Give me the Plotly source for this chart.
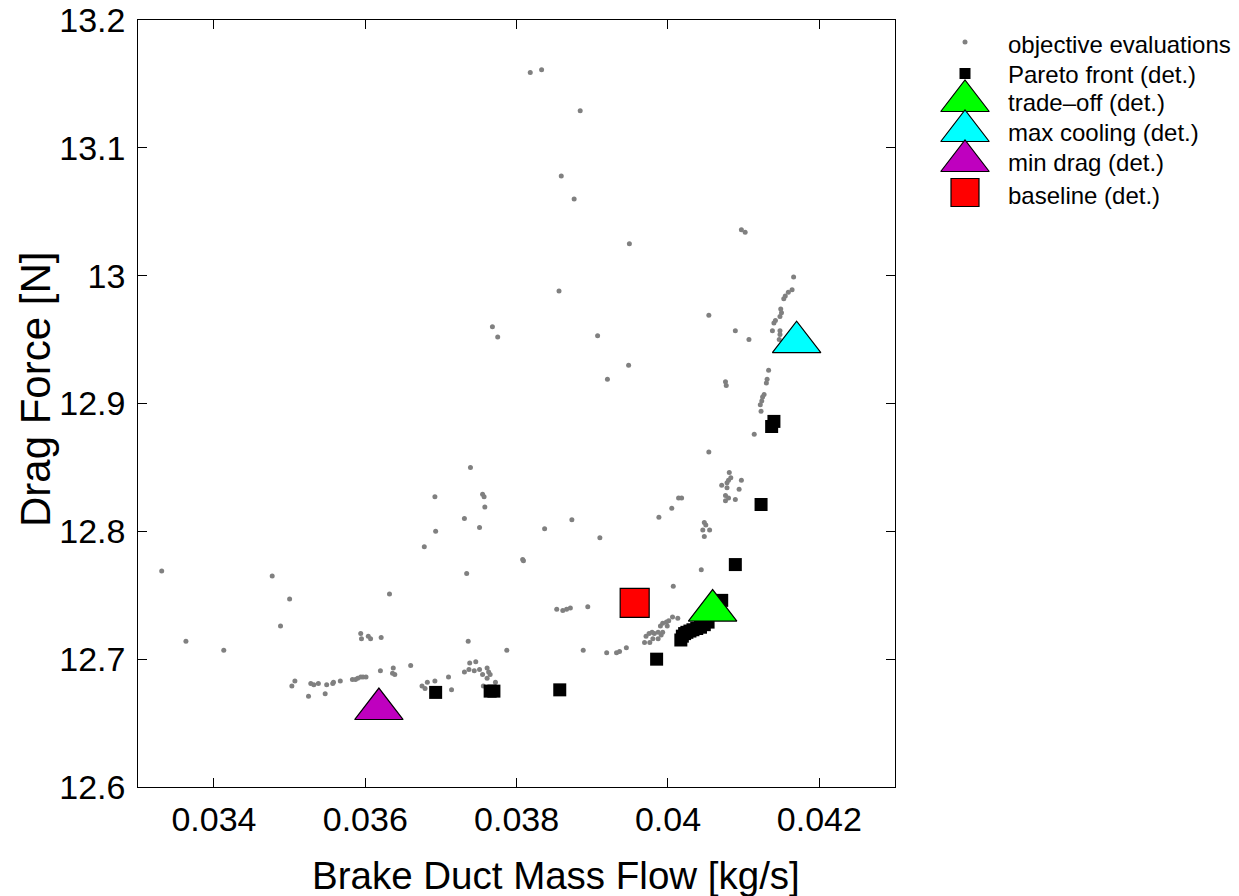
import plotly.graph_objects as go

# ---------------- data ----------------
eval_x = [0.03818, 0.03833, 0.03884, 0.03859, 0.03876, 0.03949, 0.03856, 0.03768, 0.03775, 0.03907, 0.03948, 0.03920,
          0.04097, 0.04102, 0.04054, 0.04089, 0.04107,
          0.04166, 0.04164, 0.04159, 0.04155, 0.04153, 0.04149, 0.04150, 0.04148, 0.04142, 0.04140, 0.04138, 0.04148,
          0.04148, 0.04147, 0.04133, 0.04131, 0.04130, 0.04127, 0.04125, 0.04124, 0.04122, 0.04123, 0.04114,
          0.04076, 0.04077, 0.04054,
          0.04081, 0.04083, 0.04080, 0.04078, 0.04097, 0.04071, 0.04078, 0.04094, 0.04076, 0.04080, 0.04089, 0.04076,
          0.04048, 0.04050, 0.04046, 0.04055, 0.04048,
          0.03739, 0.03692, 0.03755, 0.03757, 0.03758, 0.03731, 0.03751, 0.03693, 0.03678, 0.03734, 0.03632, 0.03808,
          0.03809, 0.03837, 0.03873, 0.03910, 0.03988, 0.04005, 0.04014, 0.04018, 0.04044, 0.04007, 0.03853, 0.03861,
          0.03866, 0.03871, 0.03894,
          0.03331, 0.03363, 0.03413, 0.03477, 0.03500, 0.03488,
          0.03594, 0.03595, 0.03604, 0.03607, 0.03621, 0.03620, 0.03637, 0.03639, 0.03636, 0.03660,
          0.03503, 0.03507, 0.03525, 0.03528, 0.03532, 0.03538, 0.03547, 0.03549, 0.03557, 0.03558, 0.03567, 0.03583,
          0.03587, 0.03590, 0.03594, 0.03597, 0.03601,
          0.03736, 0.03738, 0.03731, 0.03737, 0.03710, 0.03714, 0.03692, 0.03682, 0.03675, 0.03679,
          0.03746, 0.03744, 0.03751, 0.03755, 0.03761, 0.03763, 0.03765, 0.03761, 0.03756, 0.03772, 0.03787,
          0.03888, 0.03919, 0.03932, 0.03936, 0.03945,
          0.04006, 0.04013, 0.04001, 0.03998, 0.03993, 0.03990, 0.03999, 0.03987, 0.03979, 0.03975, 0.03982, 0.03993,
          0.03991, 0.03971, 0.03980, 0.03987, 0.03976, 0.03969]
eval_y = [13.159, 13.161, 13.129, 13.078, 13.060, 13.025, 12.988, 12.960, 12.952, 12.953, 12.930, 12.919,
          13.036, 13.034, 12.969, 12.957, 12.950,
          12.999, 12.989, 12.987, 12.984, 12.982, 12.974, 12.971, 12.968, 12.965, 12.963, 12.957, 12.957,
          12.954, 12.950, 12.926, 12.919, 12.916, 12.907, 12.905, 12.902, 12.899, 12.894, 12.876,
          12.917, 12.914, 12.862,
          12.846, 12.842, 12.840, 12.838, 12.840, 12.836, 12.834, 12.833, 12.828, 12.826, 12.825, 12.824,
          12.807, 12.805, 12.801, 12.801, 12.796,
          12.850, 12.827, 12.829, 12.827, 12.819, 12.810, 12.803, 12.800, 12.788, 12.767, 12.751, 12.778,
          12.777, 12.802, 12.809, 12.795, 12.811, 12.818, 12.826, 12.826, 12.770, 12.757, 12.739, 12.738,
          12.739, 12.740, 12.741,
          12.769, 12.714, 12.707, 12.765, 12.747, 12.726,
          12.720, 12.716, 12.718, 12.716, 12.717, 12.691, 12.693, 12.688, 12.689, 12.695,
          12.679, 12.683, 12.671, 12.681, 12.680, 12.681, 12.673, 12.680, 12.681, 12.682, 12.683, 12.684,
          12.684, 12.685, 12.686, 12.686, 12.686,
          12.714, 12.697, 12.690, 12.692, 12.686, 12.676, 12.683, 12.682, 12.679, 12.677,
          12.698, 12.691, 12.692, 12.688, 12.693, 12.690, 12.688, 12.685, 12.679, 12.682, 12.707,
          12.707, 12.705, 12.705, 12.706, 12.709,
          12.733, 12.732, 12.730, 12.729, 12.728, 12.726, 12.726, 12.721, 12.721, 12.720, 12.720, 12.721,
          12.719, 12.718, 12.716, 12.716, 12.713, 12.713]

pareto_x = [0.03693, 0.03765, 0.03770, 0.03857, 0.03985, 0.04017, 0.04019, 0.04022, 0.04025, 0.04029, 0.04033,
            0.04038, 0.04043, 0.04048, 0.04053, 0.04071, 0.04089, 0.04123, 0.04137, 0.04140]
pareto_y = [12.674, 12.675, 12.675, 12.676, 12.700, 12.715, 12.718, 12.720, 12.721, 12.722, 12.723,
            12.724, 12.725, 12.727, 12.729, 12.746, 12.774, 12.821, 12.882, 12.886]

tradeoff_x, tradeoff_y = [0.04059], [12.738]
maxcool_x, maxcool_y = [0.04170], [12.948]
mindrag_x, mindrag_y = [0.03618], [12.661]
baseline_x, baseline_y = [0.03956], [12.744]

x_ticks = [0.034, 0.036, 0.038, 0.040, 0.042]
x_tick_labels = ["0.034", "0.036", "0.038", "0.04", "0.042"]
y_ticks = [12.6, 12.7, 12.8, 12.9, 13.0, 13.1, 13.2]
y_tick_labels = ["12.6", "12.7", "12.8", "12.9", "13", "13.1", "13.2"]

legend_names = ["objective evaluations", "Pareto front (det.)", "trade\u2013off (det.)",
                "max cooling (det.)", "min drag (det.)", "baseline (det.)"]
x_title = "Brake Duct Mass Flow [kg/s]"
y_title = "Drag Force [N]"

# ---------------- layout helpers ----------------
FONT = "Liberation Sans, Arial, Helvetica, sans-serif"
OFF = 8                      # page body margin in the browser
W, H = 1239 - OFF, 896 - OFF  # figure size


def fx(px):
    """screen pixel x -> paper fraction"""
    return (px - OFF) / W


def fy(py):
    """screen pixel y -> paper fraction"""
    return 1 - (py - OFF) / H


L, R, T, B = 138.25, 895, 20, 787   # plot area in screen pixels

styles = [
    dict(symbol="circle", size=5, color="#808080", line=dict(width=0)),
    dict(symbol="square", size=13, color="black", line=dict(width=0)),
    dict(symbol="triangle-up", size=42, color="#00ff00", line=dict(width=1.2, color="black")),
    dict(symbol="triangle-up", size=42, color="#00ffff", line=dict(width=1.2, color="black")),
    dict(symbol="triangle-up", size=42, color="#bf00bf", line=dict(width=1.2, color="black")),
    dict(symbol="square", size=29, color="#ff0000", line=dict(width=1.2, color="black")),
]
legend_sizes = [5, 11, 42, 42, 42, 28]
series = [(eval_x, eval_y), (pareto_x, pareto_y), (tradeoff_x, tradeoff_y),
          (maxcool_x, maxcool_y), (mindrag_x, mindrag_y), (baseline_x, baseline_y)]

fig = go.Figure()
for (sx, sy), st, name in zip(series, styles, legend_names):
    fig.add_trace(go.Scatter(x=sx, y=sy, mode="markers", name=name, marker=st,
                             showlegend=False, xaxis="x", yaxis="y", cliponaxis=False))

# custom legend (symbols on a pixel-space overlay axis, text as annotations)
leg_text_y = [45, 74, 103, 133, 162, 195]
leg_sym_y = [42, 73.5, 101, 131, 161, 192.5]
leg_sym_x = 965
for i, (st, name) in enumerate(zip(styles, legend_names)):
    mk = dict(st)
    mk["size"] = legend_sizes[i]
    fig.add_trace(go.Scatter(x=[leg_sym_x - OFF], y=[leg_sym_y[i] - OFF], mode="markers",
                             marker=mk, showlegend=False, hoverinfo="skip",
                             xaxis="x2", yaxis="y2", cliponaxis=False))
    fig.add_annotation(text=name, x=fx(1006), y=fy(leg_text_y[i]), xref="paper", yref="paper",
                       xanchor="left", yanchor="middle", showarrow=False,
                       font=dict(family=FONT, size=24, color="black"))

# axis titles as annotations (positioned like the reference)
fig.add_annotation(text=x_title, x=fx(556), y=fy(875), xref="paper", yref="paper",
                   xanchor="center", yanchor="middle", showarrow=False,
                   font=dict(family=FONT, size=38.5, color="black"))
fig.add_annotation(text=y_title, x=fx(36), y=fy(390), xref="paper", yref="paper", textangle=-90,
                   xanchor="center", yanchor="middle", showarrow=False,
                   font=dict(family=FONT, size=42, color="black"))

axis_common = dict(showgrid=False, zeroline=False, showline=True, linecolor="black", linewidth=1,
                   mirror="allticks", ticks="inside", ticklen=9, tickwidth=1, tickcolor="black",
                   ticklabeloverflow="allow",
                   tickfont=dict(family=FONT, size=34, color="black"))

fig.update_layout(
    width=W, height=H,
    margin=dict(l=0, r=0, t=0, b=0),
    paper_bgcolor="white", plot_bgcolor="rgba(0,0,0,0)",
    showlegend=False,
    xaxis=dict(domain=[fx(L), fx(R)], range=[0.033, 0.043], tickvals=x_ticks, ticktext=x_tick_labels,
               anchor="y", automargin=False, ticklabelstandoff=2, **axis_common),
    yaxis=dict(domain=[fy(B), fy(T)], range=[12.6, 13.2], tickvals=y_ticks, ticktext=y_tick_labels,
               anchor="x", automargin=False, ticklabelstandoff=5, **axis_common),
    xaxis2=dict(domain=[0, 1], range=[0, W], visible=False, anchor="y2", fixedrange=True),
    yaxis2=dict(domain=[0, 1], range=[H, 0], visible=False, anchor="x2", fixedrange=True),
)

fig.write_html("out.html")
